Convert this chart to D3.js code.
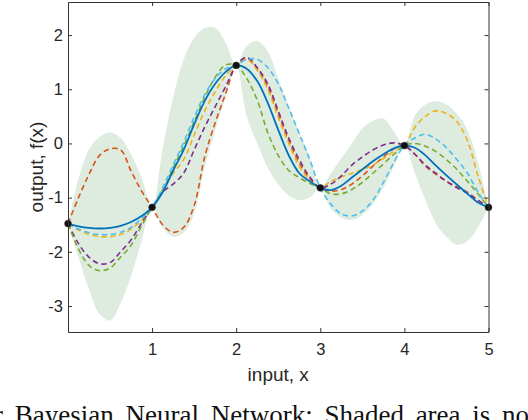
<!DOCTYPE html>
<html>
<head>
<meta charset="utf-8">
<script src="https://cdn.jsdelivr.net/npm/d3@7"></script>
<style>
  html, body { margin: 0; padding: 0; background: #fff; }
  svg { display: block; }
</style>
</head>
<body>
<svg id="chart" width="528" height="420"></svg>
<script>
// ---- data ----
const xs = [0,0.125,0.25,0.375,0.5,0.625,0.75,0.875,
            1,1.125,1.25,1.375,1.5,1.625,1.75,1.875,
            2,2.125,2.25,2.375,2.5,2.625,2.75,2.875,
            3,3.125,3.25,3.375,3.5,3.625,3.75,3.875,
            4,4.125,4.25,4.375,4.5,4.625,4.75,4.875,5];

const obsX = [0, 1, 2, 3, 4, 5];
const obsY = [-1.48, -1.18, 1.44, -0.82, -0.04, -1.18];

const meanY = [-1.48,-1.53,-1.56,-1.57,-1.56,-1.52,-1.45,-1.34,
               -1.18,-0.9,-0.5,-0.12,0.35,0.78,1.1,1.32,
               1.44,1.38,1.15,0.75,0.25,-0.22,-0.55,-0.7,
               -0.82,-0.86,-0.78,-0.63,-0.48,-0.33,-0.2,-0.09,
               -0.04,-0.08,-0.22,-0.41,-0.59,-0.76,-0.93,-1.09,-1.18];

const upperY = [-1.48,-0.65,-0.11,0.12,0.2,0.1,-0.2,-0.63,
                -1.18,-0.1,0.85,1.55,1.95,2.13,2.13,1.86,
                1.44,1.8,1.89,1.7,1.2,0.7,0.2,-0.25,
                -0.82,-0.55,-0.28,0.0,0.28,0.42,0.46,0.22,
                -0.04,0.52,0.72,0.78,0.72,0.55,0.25,-0.35,-1.18];

const lowerY = [-1.48,-2.1,-2.7,-3.15,-3.27,-2.95,-2.45,-1.8,
                -1.18,-1.55,-1.72,-1.65,-1.3,-0.45,0.25,0.85,
                1.44,0.5,0.0,-0.45,-0.76,-0.96,-1.05,-1.0,
                -0.82,-1.2,-1.37,-1.41,-1.32,-1.12,-0.82,-0.42,
                -0.04,-0.55,-1.05,-1.48,-1.72,-1.87,-1.8,-1.55,-1.18];

const sampleRed = [-1.48,-1.0,-0.57,-0.22,-0.1,-0.12,-0.51,-0.88,
                   -1.18,-1.5,-1.64,-1.55,-1.15,-0.25,0.38,0.92,
                   1.44,1.57,1.38,1.05,0.55,0.05,-0.36,-0.65,
                   -0.82,-0.88,-0.85,-0.75,-0.6,-0.42,-0.25,-0.1,
                   -0.04,-0.2,-0.42,-0.57,-0.7,-0.8,-0.9,-1.05,-1.18];

const sampleYellow = [-1.48,-1.6,-1.68,-1.72,-1.72,-1.68,-1.58,-1.42,
                      -1.18,-0.85,-0.55,-0.3,0.15,0.6,0.95,1.25,
                      1.44,1.55,1.35,1.0,0.48,0.0,-0.42,-0.68,
                      -0.82,-0.7,-0.62,-0.55,-0.48,-0.4,-0.28,-0.15,
                      -0.04,0.3,0.5,0.6,0.55,0.4,0.05,-0.6,-1.18];

const samplePurple = [-1.48,-1.85,-2.1,-2.22,-2.2,-2.0,-1.78,-1.47,
                      -1.18,-0.9,-0.75,-0.55,-0.12,0.3,0.68,1.05,
                      1.44,1.59,1.4,1.1,0.6,0.1,-0.3,-0.62,
                      -0.82,-0.75,-0.6,-0.4,-0.25,-0.12,-0.03,0.01,
                      -0.04,-0.2,-0.4,-0.55,-0.7,-0.82,-0.92,-1.05,-1.18];

const sampleGreen = [-1.48,-1.95,-2.25,-2.35,-2.3,-2.1,-1.88,-1.52,
                     -1.18,-0.88,-0.45,-0.05,0.4,0.85,1.22,1.45,
                     1.44,1.2,0.8,0.2,-0.22,-0.5,-0.63,-0.74,
                     -0.82,-0.93,-0.93,-0.85,-0.72,-0.55,-0.38,-0.2,
                     -0.04,0.0,-0.05,-0.15,-0.3,-0.48,-0.7,-0.93,-1.18];

const sampleCyan = [-1.48,-1.58,-1.65,-1.68,-1.68,-1.64,-1.55,-1.38,
                    -1.18,-0.82,-0.4,0.02,0.48,0.9,1.2,1.38,
                    1.44,1.55,1.55,1.4,1.1,0.65,0.18,-0.3,
                    -0.82,-1.12,-1.3,-1.34,-1.25,-1.05,-0.72,-0.35,
                    -0.04,0.1,0.17,0.08,-0.08,-0.3,-0.55,-0.9,-1.18];

const xTickVals = [1, 2, 3, 4, 5];
const yTickVals = [-3, -2, -1, 0, 1, 2];
const xLabel = "input, x";
const yLabel = "output, f(x)";
const caption = "r Bayesian Neural Network: Shaded area is no";

const samples = [
  { name: "red",    values: sampleRed,    color: "#D95319" },
  { name: "yellow", values: sampleYellow, color: "#EDB120" },
  { name: "purple", values: samplePurple, color: "#7E2F8E" },
  { name: "green",  values: sampleGreen,  color: "#77AC30" },
  { name: "cyan",   values: sampleCyan,   color: "#4DBEEE" }
];

// ---- layout ----
const svg = d3.select("#chart");
const L = 68, R = 488.5, T = 2, B = 332;

const x = d3.scaleLinear().domain([0, 5]).range([L, R]);
const y = d3.scaleLinear().domain([-3.48, 2.61]).range([B, T]);

const font = "'Liberation Sans', Arial, Helvetica, sans-serif";

// band
const band = d3.area()
  .x((d, i) => x(xs[i]))
  .y0((d, i) => y(lowerY[i]))
  .y1((d, i) => y(upperY[i]))
  .curve(d3.curveCatmullRom.alpha(0.5));

svg.append("path")
  .datum(xs)
  .attr("d", band)
  .attr("fill", "#deece0")
  .attr("stroke", "none");

const line = vals => d3.line()
  .x((d, i) => x(xs[i]))
  .y((d, i) => y(vals[i]))
  .curve(d3.curveCatmullRom.alpha(0.5))(xs);

samples.forEach(s => {
  svg.append("path")
    .attr("d", line(s.values))
    .attr("fill", "none")
    .attr("stroke", s.color)
    .attr("stroke-width", 1.6)
    .attr("stroke-dasharray", "5.5,3.5");
});

svg.append("path")
  .attr("d", line(meanY))
  .attr("fill", "none")
  .attr("stroke", "#0072BD")
  .attr("stroke-width", 1.8);

svg.selectAll("circle.obs")
  .data(obsX)
  .enter().append("circle")
  .attr("class", "obs")
  .attr("cx", d => x(d))
  .attr("cy", (d, i) => y(obsY[i]))
  .attr("r", 3.4)
  .attr("fill", "#111")
  .attr("stroke", "#333")
  .attr("stroke-width", 0.6);

// axes
const axisColor = "#333";
function styleAxis(g) {
  g.select(".domain").attr("stroke", axisColor).attr("stroke-width", 1);
  g.selectAll(".tick line").attr("stroke", axisColor).attr("stroke-width", 1);
  g.selectAll(".tick text")
    .attr("fill", "#262626")
    .style("font-family", font)
    .style("font-size", "16.5px");
}

const gx = svg.append("g")
  .attr("transform", `translate(0,${B})`)
  .call(d3.axisBottom(x).tickValues(xTickVals).tickSizeInner(-4).tickSizeOuter(0).tickPadding(11).tickFormat(d3.format("d")));
styleAxis(gx);

const gxt = svg.append("g")
  .attr("transform", `translate(0,${T})`)
  .call(d3.axisTop(x).tickValues(xTickVals).tickSizeInner(-4).tickSizeOuter(0).tickFormat(""));
styleAxis(gxt);

const gy = svg.append("g")
  .attr("transform", `translate(${L},0)`)
  .call(d3.axisLeft(y).tickValues(yTickVals).tickSizeInner(-4).tickSizeOuter(0).tickPadding(5).tickFormat(d3.format("d")));
styleAxis(gy);

const gyr = svg.append("g")
  .attr("transform", `translate(${R},0)`)
  .call(d3.axisRight(y).tickValues(yTickVals).tickSizeInner(-4).tickSizeOuter(0).tickFormat(""));
styleAxis(gyr);

// minus sign rendering like MATLAB (hyphen)
gy.selectAll(".tick text").text(d => d < 0 ? "-" + Math.abs(d) : d);

// axis labels
svg.append("text")
  .attr("x", (L + R) / 2)
  .attr("y", 381)
  .attr("text-anchor", "middle")
  .attr("fill", "#262626")
  .style("font-family", font)
  .style("font-size", "19px")
  .text(xLabel);

svg.append("text")
  .attr("transform", `translate(43,${(T + B) / 2}) rotate(-90)`)
  .attr("text-anchor", "middle")
  .attr("fill", "#262626")
  .style("font-family", font)
  .style("font-size", "19px")
  .text(yLabel);

// caption (cut off at the picture's edges, as in the reference)
svg.append("text")
  .attr("x", -6)
  .attr("y", 424)
  .attr("fill", "#111")
  .style("font-family", "'Liberation Serif', 'Times New Roman', serif")
  .style("font-size", "27px")
  .style("word-spacing", "5px")
  .text(caption);
</script>
</body>
</html>
